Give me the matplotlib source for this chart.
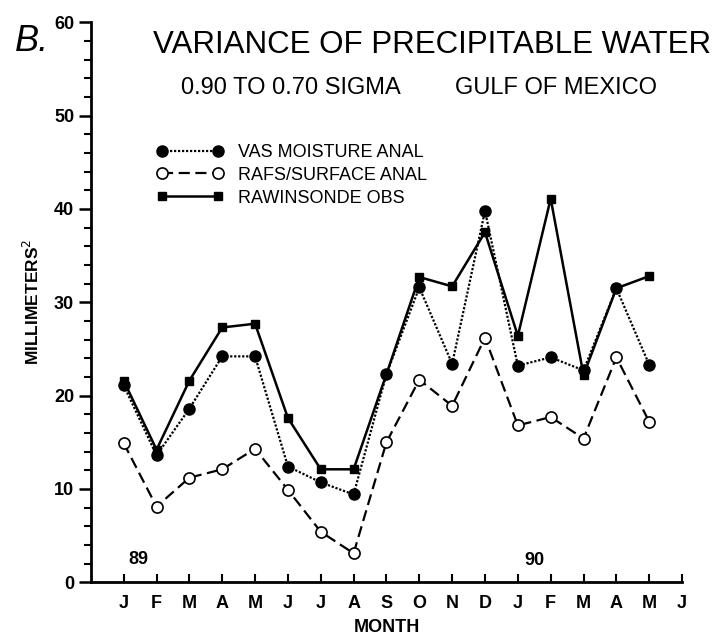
import matplotlib
matplotlib.use("Agg")
import matplotlib.pyplot as plt
from matplotlib.ticker import MultipleLocator

plt.rcParams['font.family'] = ['Liberation Sans', 'DejaVu Sans']

# monthly variance, Jan 1989 .. May 1990
months = ['J', 'F', 'M', 'A', 'M', 'J', 'J', 'A', 'S', 'O', 'N', 'D', 'J', 'F', 'M', 'A', 'M', 'J']
vas = [21.1, 13.6, 18.6, 24.2, 24.2, 12.4, 10.7, 9.4, 22.3, 31.6, 23.4, 39.8, 23.2, 24.1, 22.7, 31.5, 23.3]
rafs = [14.9, 8.1, 11.2, 12.1, 14.3, 9.9, 5.4, 3.1, 15.0, 21.7, 18.9, 26.2, 16.8, 17.7, 15.4, 24.1, 17.2]
raob = [21.6, 14.2, 21.6, 27.3, 27.7, 17.6, 12.1, 12.1, 22.3, 32.7, 31.7, 37.5, 26.4, 41.1, 22.2, 31.5, 32.8]

fig = plt.figure(figsize=(7.21, 6.37), dpi=100)
ax = fig.add_axes([0.126, 0.086, 0.82, 0.879])

x = list(range(len(vas)))
ax.plot(x, vas, color='black', lw=1.6, linestyle=(0, (1, 0.8)),
        marker='o', ms=8, mfc='black', mec='black', label='VAS MOISTURE ANAL')
ax.plot(x, rafs, color='black', lw=1.6, linestyle=(0, (5, 2.5)),
        marker='o', ms=8, mfc='white', mec='black', mew=1.2, label='RAFS/SURFACE ANAL')
ax.plot(x, raob, color='black', lw=1.8, linestyle='-',
        marker='s', ms=5.5, mfc='black', mec='black', label='RAWINSONDE OBS')

ax.set_xlim(-1, 17)
ax.set_ylim(0, 60)
ax.set_xticks(range(len(months)))
ax.set_xticklabels(months, fontsize=13, fontweight='bold')
ax.yaxis.set_major_locator(MultipleLocator(10))
ax.yaxis.set_minor_locator(MultipleLocator(2))
ax.tick_params(axis='y', which='major', direction='out', length=9, width=1.8, labelsize=13, pad=3)
ax.tick_params(axis='y', which='minor', direction='out', length=5, width=1.5)
ax.tick_params(axis='x', direction='in', length=6, width=1.5, pad=9)
for lab in ax.get_yticklabels():
    lab.set_fontweight('bold')

for side in ['top', 'right']:
    ax.spines[side].set_visible(False)
for side in ['left', 'bottom']:
    ax.spines[side].set_linewidth(2)

ax.set_xlabel('MONTH', fontsize=13, fontweight='bold', labelpad=5)
ax.set_ylabel('MILLIMETERS$^2$', fontsize=12.5, fontweight='bold', labelpad=9)

ax.text(0.45, 2.4, '89', fontsize=13, fontweight='bold', ha='center', va='center')
ax.text(12.5, 2.3, '90', fontsize=13, fontweight='bold', ha='center', va='center')

fig.text(0.212, 0.929, 'VARIANCE OF PRECIPITABLE WATER', fontsize=22.5, va='center')
fig.text(0.251, 0.862, '0.90 TO 0.70 SIGMA', fontsize=17, va='center')
fig.text(0.631, 0.862, 'GULF OF MEXICO', fontsize=17, va='center')
fig.text(0.02, 0.935, 'B.', fontsize=26, style='italic', va='center')

leg = ax.legend(loc='upper left', bbox_to_anchor=(0.217, 0.774), bbox_transform=fig.transFigure,
                frameon=False, fontsize=13, numpoints=2, handlelength=3.7, handletextpad=0.8,
                labelspacing=0.32, borderpad=0, borderaxespad=0)

fig.savefig('out.png', dpi=100)
